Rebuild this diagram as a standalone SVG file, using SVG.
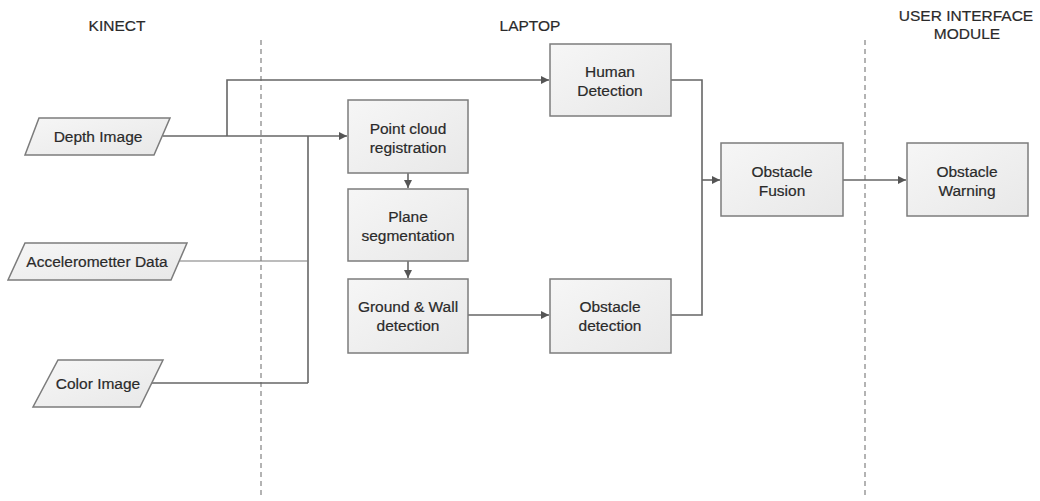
<svg xmlns="http://www.w3.org/2000/svg" width="1040" height="501" viewBox="0 0 1040 501">
  <style>
    .bg { fill: #ffffff; }
    .box { fill: url(#boxfill); stroke: #7c7c7c; stroke-width: 1.5; }
    .lbl { font-family: "Liberation Sans", Arial, sans-serif; font-size: 15.5px; fill: #2a2a2a; stroke: #2a2a2a; stroke-width: 0.2; text-anchor: middle; }
    .hdr { font-family: "Liberation Sans", Arial, sans-serif; font-size: 15.5px; fill: #2a2a2a; stroke: #2a2a2a; stroke-width: 0.2; text-anchor: middle; }
    .lane { stroke: #9a9a9a; stroke-width: 1.5; stroke-dasharray: 5 4; fill: none; }
    .wire { stroke: #666666; stroke-width: 1.6; fill: none; }
    .thin { stroke: #7a7a7a; stroke-width: 1.2; fill: none; }
  </style>
  <defs>
    <linearGradient id="boxfill" x1="0" y1="0" x2="1" y2="1">
      <stop offset="0" stop-color="#f6f6f6"/>
      <stop offset="1" stop-color="#e8e8e8"/>
    </linearGradient>
    <marker id="arrow" viewBox="0 0 10 10" refX="10" refY="5" markerWidth="8" markerHeight="8" markerUnits="userSpaceOnUse" orient="auto">
      <path d="M0,0 L10,5 L0,10 z" fill="#555555"/>
    </marker>
  </defs>

  <rect class="bg" x="0" y="0" width="1040" height="501"/>

  <!-- lane headers and separators -->
  <g id="lanes">
    <text class="hdr" x="117" y="31">KINECT</text>
    <text class="hdr" x="530" y="31">LAPTOP</text>
    <text class="hdr" x="966" y="21">USER INTERFACE</text>
    <text class="hdr" x="967" y="39">MODULE</text>
    <line class="lane" x1="261" y1="40" x2="261" y2="497"/>
    <line class="lane" x1="865" y1="40" x2="865" y2="497"/>
  </g>

  <!-- connectors -->
  <g id="connectors">
    <!-- depth image to point cloud, with branch to human detection -->
    <path class="wire" d="M163,136 H347" marker-end="url(#arrow)"/>
    <path class="wire" d="M227,136 V80 H549" marker-end="url(#arrow)"/>
    <!-- sensor bus -->
    <path class="wire" d="M308,136 V383"/>
    <path class="thin" d="M180,261 H308"/>
    <path class="wire" d="M152,383 H308"/>
    <!-- processing chain -->
    <path class="wire" d="M408,173 V188" marker-end="url(#arrow)"/>
    <path class="wire" d="M408,261 V278" marker-end="url(#arrow)"/>
    <path class="wire" d="M468,315 H549" marker-end="url(#arrow)"/>
    <!-- merge into fusion -->
    <path class="wire" d="M671,80 H702 V315 H671"/>
    <path class="wire" d="M702,180 H720" marker-end="url(#arrow)"/>
    <path class="wire" d="M843,180 H906" marker-end="url(#arrow)"/>
  </g>

  <!-- inputs -->
  <g id="depth-image">
    <polygon class="box" points="39,118 170,118 154,155 25,155"/>
    <text class="lbl" x="98" y="142">Depth Image</text>
  </g>
  <g id="accelerometer-data">
    <polygon class="box" points="25,243 187,243 171,280 8,280"/>
    <text class="lbl" x="97" y="267">Accelerometter Data</text>
  </g>
  <g id="color-image">
    <polygon class="box" points="58,360 163,360 140,407 33,407"/>
    <text class="lbl" x="98" y="389">Color Image</text>
  </g>

  <!-- processing blocks -->
  <g id="human-detection">
    <rect class="box" x="550" y="44" width="121" height="72"/>
    <text class="lbl" x="610" y="77">Human</text>
    <text class="lbl" x="610" y="96">Detection</text>
  </g>
  <g id="point-cloud-registration">
    <rect class="box" x="348" y="100" width="120" height="73"/>
    <text class="lbl" x="408" y="134">Point cloud</text>
    <text class="lbl" x="408" y="153">registration</text>
  </g>
  <g id="plane-segmentation">
    <rect class="box" x="348" y="189" width="120" height="72"/>
    <text class="lbl" x="408" y="222">Plane</text>
    <text class="lbl" x="408" y="241">segmentation</text>
  </g>
  <g id="ground-wall-detection">
    <rect class="box" x="348" y="279" width="120" height="74"/>
    <text class="lbl" x="408" y="312">Ground &amp; Wall</text>
    <text class="lbl" x="408" y="331">detection</text>
  </g>
  <g id="obstacle-detection">
    <rect class="box" x="550" y="279" width="121" height="74"/>
    <text class="lbl" x="610" y="312">Obstacle</text>
    <text class="lbl" x="610" y="331">detection</text>
  </g>
  <g id="obstacle-fusion">
    <rect class="box" x="721" y="143" width="122" height="73"/>
    <text class="lbl" x="782" y="177">Obstacle</text>
    <text class="lbl" x="782" y="196">Fusion</text>
  </g>
  <g id="obstacle-warning">
    <rect class="box" x="907" y="143" width="121" height="73"/>
    <text class="lbl" x="967" y="177">Obstacle</text>
    <text class="lbl" x="967" y="196">Warning</text>
  </g>
</svg>
